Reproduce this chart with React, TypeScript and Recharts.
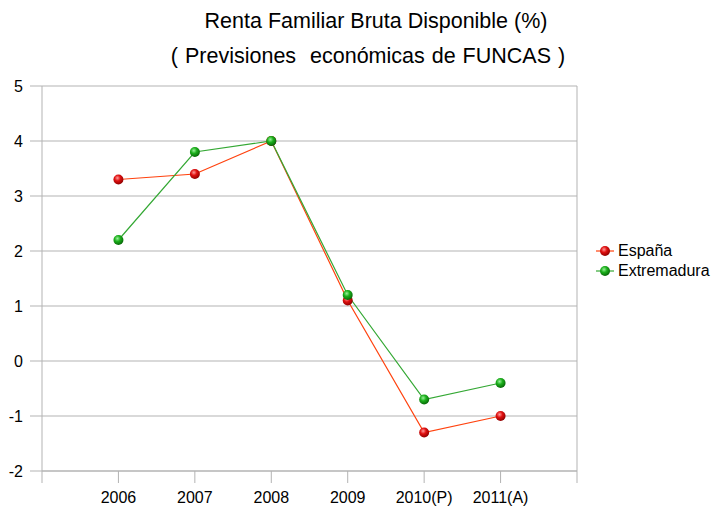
import React from 'react';
import { LineChart, Line, XAxis, YAxis, CartesianGrid, ReferenceLine } from 'recharts';

const years = ['2006', '2007', '2008', '2009', '2010(P)', '2011(A)'];
const espana = [3.3, 3.4, 4.0, 1.1, -1.3, -1.0];
const extremadura = [2.2, 3.8, 4.0, 1.2, -0.7, -0.4];
const yTicks = [-2, -1, 0, 1, 2, 3, 4, 5];

const FONT = '"Liberation Sans", Arial, sans-serif';
const GRID = '#b3b3b3';
const RED_LINE = '#ff420e';
const GREEN_LINE = '#34a834';

// x positions sit on the band edges, 1..6 of 0..7
const data = years.map((year, i) => ({
  x: i + 1,
  year,
  espana: espana[i],
  extremadura: extremadura[i],
}));

const Ball = (props: any) => {
  const { cx, cy, grad } = props;
  if (cx == null || cy == null) return null;
  return <circle cx={cx} cy={cy} r={5} fill={`url(#${grad})`} />;
};

const Stops = ({ red }: { red: boolean }) =>
  red ? (
    <>
      <stop offset="0%" stopColor="#ff9a9a" />
      <stop offset="45%" stopColor="#e01010" />
      <stop offset="100%" stopColor="#900000" />
    </>
  ) : (
    <>
      <stop offset="0%" stopColor="#9af09a" />
      <stop offset="45%" stopColor="#1cb01c" />
      <stop offset="100%" stopColor="#086808" />
    </>
  );

const LegendIcon = ({ color, grad }: { color: string; grad: string }) => (
  <svg width={18} height={12} style={{ marginRight: 4 }}>
    <defs>
      <radialGradient id={grad + 'L'} cx="40%" cy="35%" r="65%">
        <Stops red={grad === 'gRed'} />
      </radialGradient>
    </defs>
    <line x1={0} y1={6} x2={18} y2={6} stroke={color} strokeWidth={1.2} />
    <circle cx={9} cy={6} r={5} fill={`url(#${grad}L)`} />
  </svg>
);

export default function App() {
  return (
    <div style={{ position: 'absolute', left: 0, top: 0, width: 714, height: 508, background: '#fff' }}>
      <div
        style={{
          position: 'absolute',
          left: 0,
          width: 752,
          top: 4,
          textAlign: 'center',
          fontFamily: FONT,
          fontSize: 21.5,
          lineHeight: '35px',
          whiteSpace: 'pre',
          color: '#000',
        }}
      >
        <div>Renta Familiar Bruta Disponible (%)</div>
        <div style={{ marginLeft: -16, wordSpacing: 1 }}>( Previsiones  económicas de FUNCAS )</div>
      </div>
      <LineChart
        width={714}
        height={508}
        data={data}
        margin={{ top: 86, right: 137, bottom: 0, left: 0 }}
        style={{ fontFamily: FONT }}
      >
        <defs>
          <radialGradient id="gRed" cx="40%" cy="35%" r="65%">
            <Stops red />
          </radialGradient>
          <radialGradient id="gGreen" cx="40%" cy="35%" r="65%">
            <Stops red={false} />
          </radialGradient>
        </defs>
        <CartesianGrid vertical={false} stroke={GRID} strokeWidth={1} />
        <XAxis
          dataKey="x"
          type="number"
          domain={[0, 7]}
          ticks={[0, 1, 2, 3, 4, 5, 6, 7]}
          interval={0}
          tickFormatter={(v: number) => (v >= 1 && v <= 6 ? years[v - 1] : '')}
          height={37}
          stroke={GRID}
          tickSize={12}
          tickMargin={9}
          tick={{ fill: '#000', fontSize: 16 }}
        />
        <YAxis
          type="number"
          domain={[-2, 5]}
          ticks={yTicks}
          interval={0}
          width={42}
          stroke={GRID}
          tickSize={12}
          tickMargin={7}
          tick={{ fill: '#000', fontSize: 16 }}
        />
        <ReferenceLine x={7} stroke={GRID} />
        <Line
          type="linear"
          dataKey="espana"
          name="España"
          stroke={RED_LINE}
          strokeWidth={1.2}
          dot={<Ball grad="gRed" />}
          activeDot={false}
          isAnimationActive={false}
        />
        <Line
          type="linear"
          dataKey="extremadura"
          name="Extremadura"
          stroke={GREEN_LINE}
          strokeWidth={1.2}
          dot={<Ball grad="gGreen" />}
          activeDot={false}
          isAnimationActive={false}
        />
      </LineChart>
      <div
        style={{
          position: 'absolute',
          left: 596,
          top: 241,
          fontFamily: FONT,
          fontSize: 16,
          color: '#000',
        }}
      >
        <div style={{ display: 'flex', alignItems: 'center', height: 20 }}>
          <LegendIcon color={RED_LINE} grad="gRed" />
          España
        </div>
        <div style={{ display: 'flex', alignItems: 'center', height: 20 }}>
          <LegendIcon color={GREEN_LINE} grad="gGreen" />
          Extremadura
        </div>
      </div>
    </div>
  );
}
